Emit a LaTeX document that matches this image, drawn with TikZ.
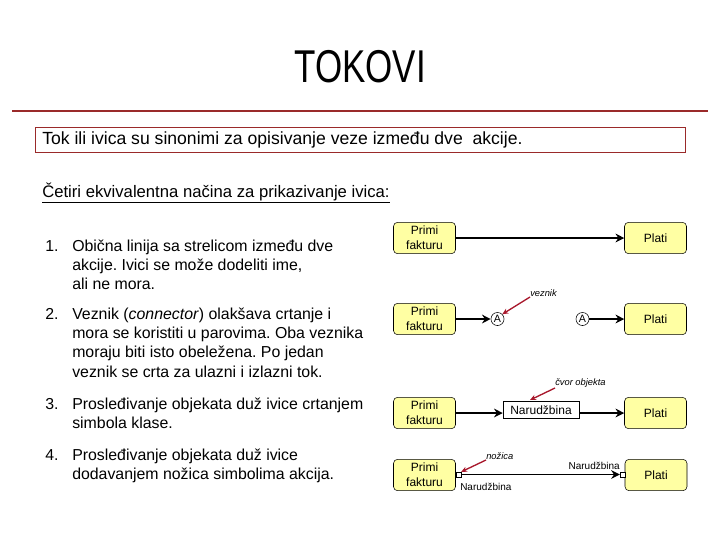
\documentclass[tikz,border=0pt]{standalone}
\usepackage{fontspec}
\setmainfont{Liberation Sans}
\newfontfamily\naslovfont[FakeStretch=0.76]{Liberation Sans}
\usetikzlibrary{arrows.meta}
\frenchspacing
\definecolor{crvena}{HTML}{9A2A2A}
\definecolor{strelica}{HTML}{A8182C}
\definecolor{zuta}{HTML}{FFFFA3}
\newcommand{\tekst}[1]{\parbox[t]{240pt}{\raggedright\fontsize{11.9}{14.6}\selectfont #1}}
\tikzset{
  akcija/.style={draw, rounded corners=3pt, fill=zuta, minimum width=46.5pt,
    minimum height=23.5pt, align=center, inner sep=1pt,
    font=\fontsize{9}{11.2}\selectfont},
  tok/.style={-{Stealth[length=6.5pt,width=6.5pt]}, line width=1.1pt},
  pokazivac/.style={-{Stealth[length=4.5pt,width=4pt]}, draw=strelica, line width=1pt},
  oznaka/.style={inner sep=0pt, font=\fontsize{7}{8}\selectfont\itshape},
  stavka/.style={anchor=base west, inner sep=0pt, font=\fontsize{11.9}{14.6}\selectfont},
}
\begin{document}
\begin{tikzpicture}[x=0.75pt,y=-0.75pt]
  \useasboundingbox (0,0) rectangle (720,540);
  \node (naslov) at (360,67) {\naslovfont\fontsize{34.5}{40}\selectfont TOKOVI};
  \draw[crvena, line width=0.9pt] (12,111) -- (708,111);
  \draw[crvena, line width=0.7pt] (35,127) rectangle (685,152);
  \node[anchor=west, inner sep=0pt, font=\fontsize{13.2}{15}\selectfont] (def) at (42,140)
    {Tok ili ivica su sinonimi za opisivanje veze između dve\ \ akcije.};
  \node[anchor=west, inner sep=0pt, font=\fontsize{12.5}{14}\selectfont] (cetiri) at (42,193)
    {\underline{Četiri ekvivalentna načina za prikazivanje ivica:}};
  % stavke
  \node[stavka] (n1) at (45,251) {1.};
  \node[stavka] (s1) at (72,251) {\tekst{Obična linija sa strelicom između dve\\akcije. Ivici se može dodeliti ime,\\ali ne mora.}};
  \node[stavka] (n2) at (45,319) {2.};
  \node[stavka] (s2) at (72,319) {\tekst{Veznik (\textit{connector}) olakšava crtanje i\\mora se koristiti u parovima. Oba veznika\\moraju biti isto obeležena. Po jedan\\veznik se crta za ulazni i izlazni tok.}};
  \node[stavka] (n3) at (45,409) {3.};
  \node[stavka] (s3) at (72,409) {\tekst{Prosleđivanje objekata duž ivice crtanjem\\simbola klase.}};
  \node[stavka] (n4) at (45,460) {4.};
  \node[stavka] (s4) at (72,460) {\tekst{Prosleđivanje objekata duž ivice\\dodavanjem nožica simbolima akcija.}};
  % dijagrami
  \node[akcija] (p1) at (424.5,238) {Primi\\fakturu};
  \node[akcija] (q1) at (655.5,238) {Plati};
  \node[akcija] (p2) at (424.5,319) {Primi\\fakturu};
  \node[akcija] (q2) at (655.5,319) {Plati};
  \node[draw, circle, inner sep=0pt, minimum size=9.8pt, font=\fontsize{8}{9}\selectfont] (a1) at (497.5,319) {A};
  \node[draw, circle, inner sep=0pt, minimum size=9.8pt, font=\fontsize{8}{9}\selectfont] (a2) at (582.5,319) {A};
  \node[akcija] (p3) at (424.5,413) {Primi\\fakturu};
  \node[akcija] (q3) at (655.5,413) {Plati};
  \node[draw, fill=white, minimum width=57pt, minimum height=13pt, inner sep=1pt,
    font=\fontsize{9}{11}\selectfont] (o3) at (541,410) {Narudžbina};
  \node[akcija] (p4) at (424.5,475) {Primi\\fakturu};
  \node[akcija] (q4) at (656,475) {Plati};
  \node[draw, fill=white, minimum size=3.6pt, inner sep=0pt] (z1) at (458.5,474.5) {};
  \node[draw, fill=white, minimum size=3.6pt, inner sep=0pt] (z2) at (622.5,474.5) {};
  \node[anchor=west, inner sep=0pt, font=\fontsize{7.5}{9}\selectfont] (r1) at (460,487) {Narudžbina};
  \node[anchor=east, inner sep=0pt, font=\fontsize{7.5}{9}\selectfont] (r2) at (620,466) {Narudžbina};
  \begin{scope}[tok]
    \draw (p1) -- (q1);
    \draw (p2) -- (a1);
    \draw (a2) -- (q2);
    \draw (p3) -- (p3 -| o3.west);
    \draw (o3.east |- q3) -- (q3);
    \draw (z1) -- (z2);
  \end{scope}
  % oznake
  \node[oznaka, anchor=south west] (vez) at (530,297) {veznik};
  \node[oznaka, anchor=south west] (cvor) at (555,388) {čvor objekta};
  \node[oznaka, anchor=south west] (noz) at (486,460) {nožica};
  \coordinate (c3) at (530,400);
  \begin{scope}[pokazivac]
    \draw (vez.south west) -- (a1.north east);
    \draw (cvor.south west) -- (c3);
    \draw (noz.south west) -- (z1.north east);
  \end{scope}
\end{tikzpicture}
\end{document}
